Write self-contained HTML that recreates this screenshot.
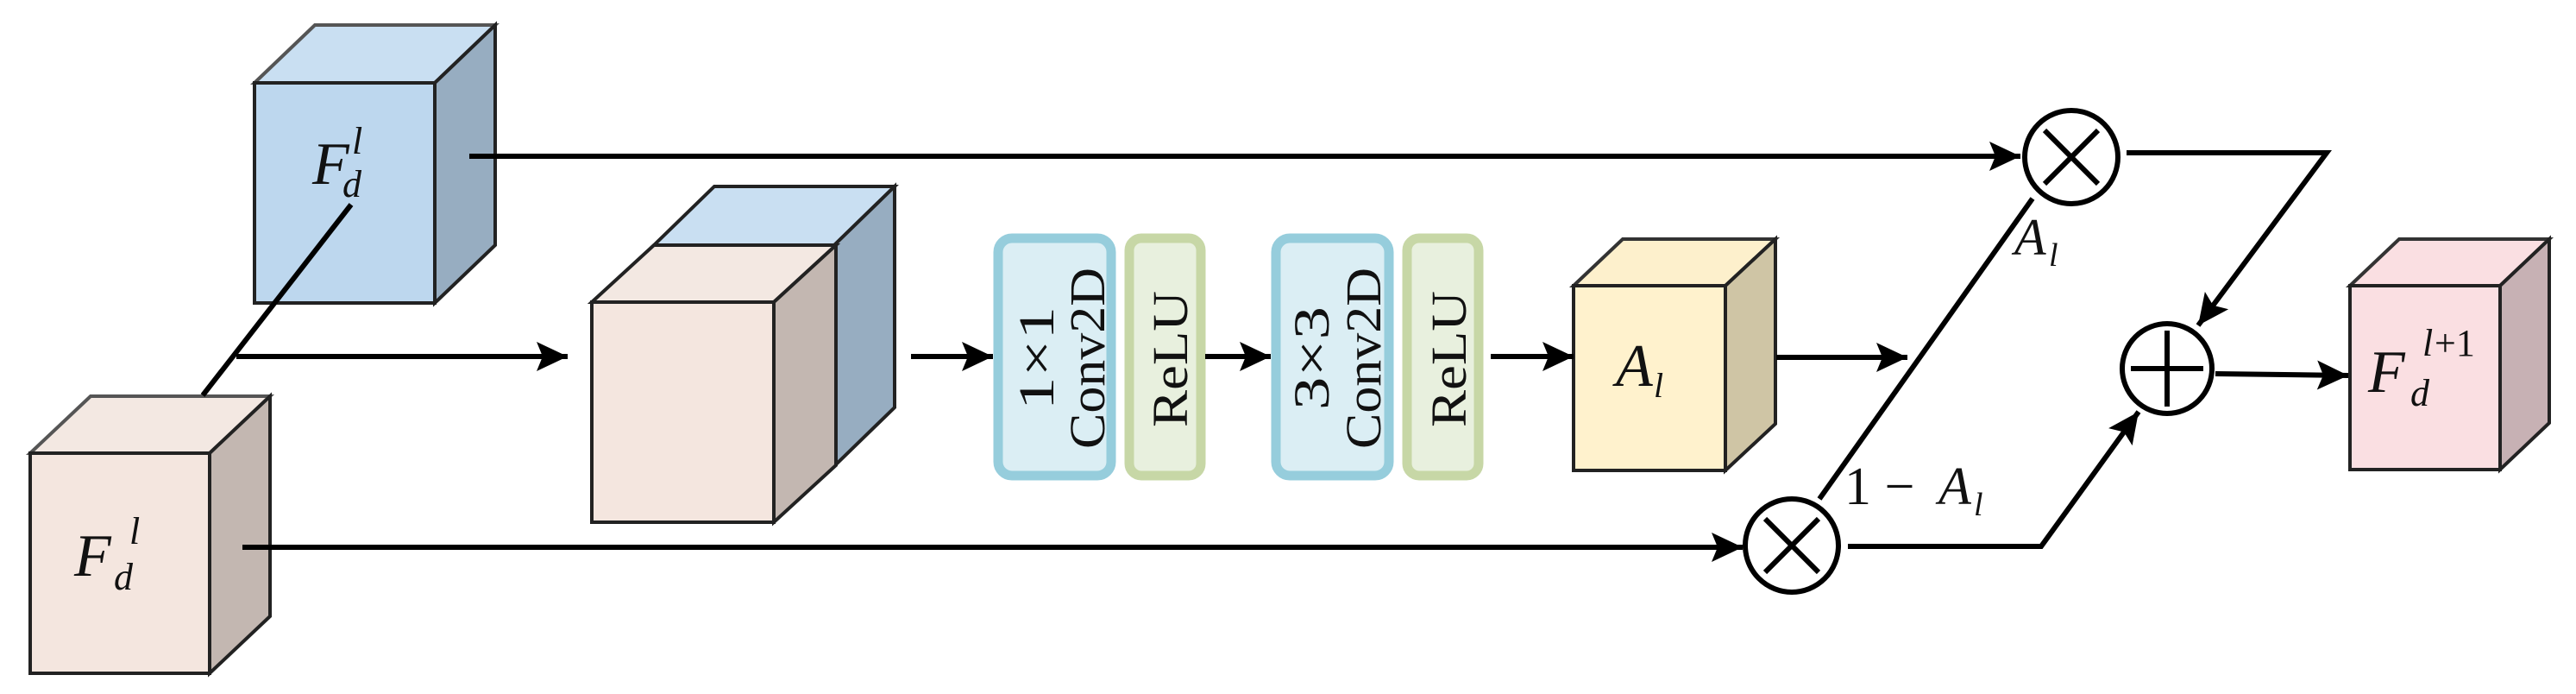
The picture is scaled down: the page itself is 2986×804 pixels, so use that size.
<!DOCTYPE html>
<html><head><meta charset="utf-8"><style>html,body{margin:0;padding:0;background:#fff}svg{display:block}</style></head><body>
<svg width="2986" height="804" viewBox="0 0 2986 804" xmlns="http://www.w3.org/2000/svg">
<defs>
<marker id="ah" markerUnits="userSpaceOnUse" markerWidth="40" markerHeight="40" viewBox="0 0 40 40" refX="38" refY="20" orient="auto"><path d="M2,3 L38,20 L2,37 L9,20 Z" fill="#000"/></marker>
</defs>
<g stroke="#222" stroke-width="4" stroke-linejoin="miter">
<!-- blue top cube -->
<polygon points="295,96 365,29 574,29 504,96" fill="#c9dff2" stroke="#555"/>
<polygon points="504,96 574,29 574,284 504,351" fill="#97adc1"/>
<rect x="295" y="96" width="209" height="255" fill="#bdd7ee"/>
<!-- lower pink cube -->
<polygon points="35,525 105,459 313,459 243,525" fill="#f3e8e2" stroke="#555"/>
<polygon points="243,525 313,459 313,714 243,780" fill="#c3b7b1"/>
<rect x="35" y="525" width="208" height="255" fill="#f4e6df"/>
<!-- mid blue behind -->
<polygon points="758,284 828,216 1037,216 967,284" fill="#c9dff2"/>
<polygon points="967,284 1037,216 1037,472 967,540" fill="#97adc1"/>
<!-- mid pink -->
<polygon points="686,350 758,284 969,284 897,350" fill="#f3e8e2"/>
<polygon points="897,350 969,284 969,539 897,605" fill="#c3b7b1"/>
<rect x="686" y="350" width="211" height="255" fill="#f4e6df"/>
<!-- yellow -->
<polygon points="1824,331 1881,277 2058,277 2000,331" fill="#fdf0cc" stroke="#333"/>
<polygon points="2000,331 2058,277 2058,491 2000,545" fill="#cfc5a5"/>
<rect x="1824" y="331" width="176" height="214" fill="#fff2cd"/>
<!-- output -->
<polygon points="2724,331 2781,277 2955,277 2898,331" fill="#fadfe2" stroke="#333"/>
<polygon points="2898,331 2955,277 2955,490 2898,544" fill="#c7b1b4"/>
<rect x="2724" y="331" width="174" height="213" fill="#fadfe2"/>
</g>
<!-- conv blocks -->
<g stroke-width="11">
<rect x="1157" y="276" width="131" height="275" rx="16" fill="#dbeef4" stroke="#96cddc"/>
<rect x="1309" y="276" width="83" height="275" rx="14" fill="#e8f0de" stroke="#c7d7a6"/>
<rect x="1479" y="276" width="131" height="275" rx="16" fill="#dbeef4" stroke="#96cddc"/>
<rect x="1631" y="276" width="83" height="275" rx="14" fill="#e8f0de" stroke="#c7d7a6"/>
</g>
<g font-family="Liberation Serif, serif" font-size="58" fill="#111" text-anchor="middle">
<text transform="translate(1221,415) rotate(-90)" textLength="120" lengthAdjust="spacingAndGlyphs">1×1</text>
<text transform="translate(1280,415) rotate(-90)" textLength="210" lengthAdjust="spacingAndGlyphs">Conv2D</text>
<text transform="translate(1376,416) rotate(-90)" textLength="158" lengthAdjust="spacingAndGlyphs">ReLU</text>
<text transform="translate(1540,415) rotate(-90)" textLength="120" lengthAdjust="spacingAndGlyphs">3×3</text>
<text transform="translate(1600,415) rotate(-90)" textLength="210" lengthAdjust="spacingAndGlyphs">Conv2D</text>
<text transform="translate(1699,416) rotate(-90)" textLength="158" lengthAdjust="spacingAndGlyphs">ReLU</text>
</g>
<!-- connectors -->
<g stroke="#000" stroke-width="6" fill="none">
<line x1="235" y1="458" x2="407" y2="237"/>
<line x1="544" y1="181" x2="2342" y2="181" marker-end="url(#ah)"/>
<line x1="274" y1="413" x2="658" y2="413" marker-end="url(#ah)"/>
<line x1="1056" y1="413" x2="1151" y2="413" marker-end="url(#ah)"/>
<line x1="1397" y1="413" x2="1473" y2="413" marker-end="url(#ah)"/>
<line x1="1728" y1="413" x2="1824" y2="413" marker-end="url(#ah)"/>
<line x1="2059" y1="414" x2="2211" y2="414" marker-end="url(#ah)"/>
<line x1="281" y1="634" x2="2020" y2="634" marker-end="url(#ah)"/>
<polyline points="2465,177 2697,177 2548,377" marker-end="url(#ah)"/>
<polyline points="2142,633 2366,633 2479,477" marker-end="url(#ah)"/>
<line x1="2568" y1="433" x2="2722" y2="435" marker-end="url(#ah)"/>
<line x1="2109" y1="578" x2="2356" y2="230"/>
<!-- operators -->
<circle cx="2401" cy="182" r="54" fill="#fff"/>
<line x1="2370" y1="151" x2="2432" y2="213"/><line x1="2432" y1="151" x2="2370" y2="213"/>
<circle cx="2077" cy="632" r="54" fill="#fff"/>
<line x1="2046" y1="601" x2="2108" y2="663"/><line x1="2108" y1="601" x2="2046" y2="663"/>
<circle cx="2512" cy="427" r="52" fill="#fff"/>
<line x1="2470" y1="427" x2="2554" y2="427"/><line x1="2512" y1="383" x2="2512" y2="471"/>
</g>
<!-- labels -->
<g font-family="Liberation Serif, serif" font-style="italic" fill="#111">
<text x="362" y="213" font-size="70">F</text><text x="408" y="178" font-size="44">l</text><text x="397" y="228" font-size="44">d</text>
<text x="86" y="667" font-size="70">F</text><text x="150" y="630" font-size="44">l</text><text x="132" y="683" font-size="44">d</text>
<text x="1873" y="447" font-size="70">A</text><text x="1917" y="460" font-size="40">l</text>
<text x="2335" y="295" font-size="60">A</text><text x="2375" y="308" font-size="38">l</text>
<text x="2138" y="584" font-size="62" font-style="normal">1 − </text><text x="2247" y="584" font-size="62">A</text><text x="2288" y="597" font-size="38">l</text>
<text x="2745" y="454" font-size="70">F</text><text x="2808" y="412" font-size="44">l</text><text x="2822" y="412" font-size="44" font-style="normal">+1</text><text x="2794" y="470" font-size="44">d</text>
</g>
</svg>
</body></html>
